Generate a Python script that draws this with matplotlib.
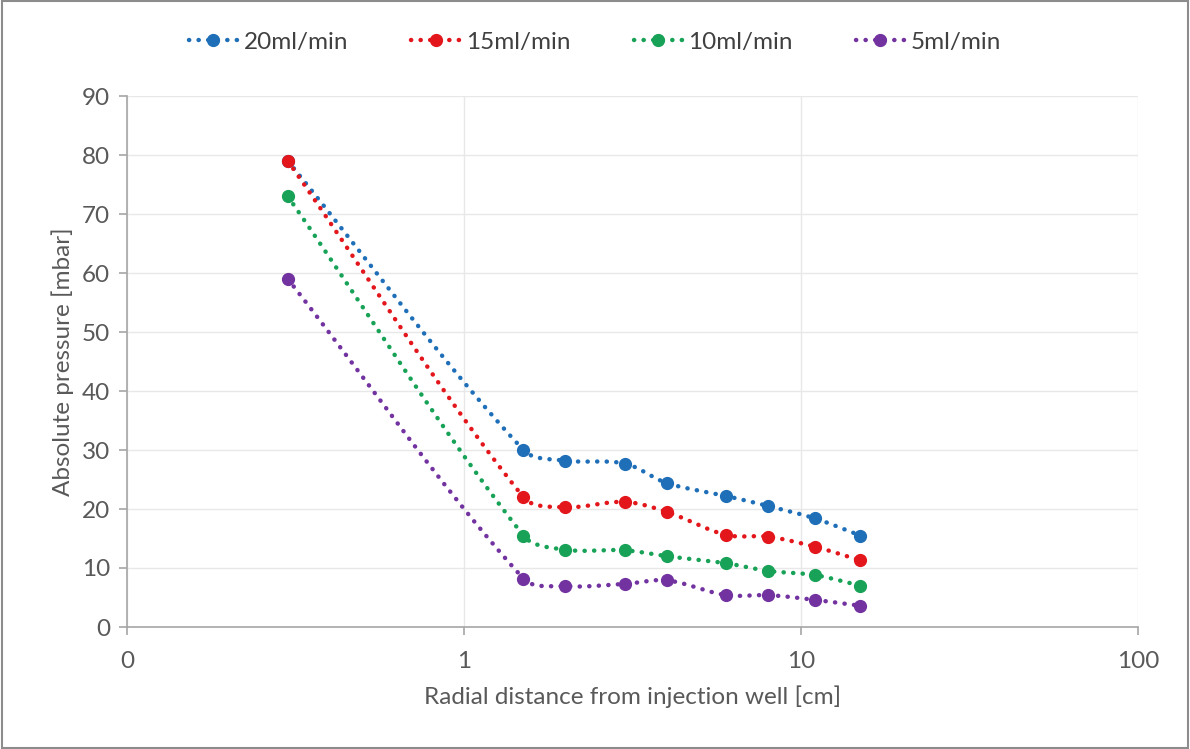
import numpy as np
import matplotlib
matplotlib.use("Agg")
import matplotlib.pyplot as plt
from matplotlib.ticker import FixedLocator, FixedFormatter, NullLocator

plt.rcParams['font.family'] = ['Lato', 'DejaVu Sans']

distance_cm = [0.3, 1.5, 2.0, 3.0, 4.0, 6.0, 8.0, 11.0, 15.0]
p_20 = [79.0, 30.0, 28.2, 27.7, 24.4, 22.2, 20.5, 18.4, 15.5]
p_15 = [79.0, 22.0, 20.3, 21.2, 19.5, 15.6, 15.3, 13.6, 11.3]
p_10 = [73.0, 15.5, 13.1, 13.0, 12.0, 10.8, 9.5, 8.8, 7.0]
p_5 = [59.0, 8.2, 6.9, 7.3, 7.9, 5.4, 5.4, 4.6, 3.6]
series_labels = ['20ml/min', '15ml/min', '10ml/min', '5ml/min']
series_colors = ['#1f6fb8', '#e3161c', '#17a257', '#7232a0']
x_ticks = [0.1, 1, 10, 100]
x_tick_labels = ['0', '1', '10', '100']
y_ticks = list(range(0, 91, 10))

FIG_W, FIG_H = 1190, 749
AX_L, AX_R, AX_T, AX_B = 127, 1138, 96, 627
X_MIN, X_MAX, Y_MIN, Y_MAX = 0.1, 100, 0, 90
PX_PER_DECADE = (AX_R - AX_L) / np.log10(X_MAX / X_MIN)
PX_PER_UNIT = (AX_B - AX_T) / (Y_MAX - Y_MIN)


def smooth(x, y, n=40):
    """Smoothed curve through the points (Bezier segments, chord-scaled
    tangents), computed in screen proportions."""
    X = np.log10(np.asarray(x, float)) * PX_PER_DECADE
    Y = np.asarray(y, float) * PX_PER_UNIT
    P = np.column_stack([X, Y])
    m = len(P)
    d = np.linalg.norm(np.diff(P, axis=0), axis=1)
    T = np.zeros_like(P)
    for i in range(m):
        if i == 0:
            T[i] = (P[1] - P[0]) / d[0]
        elif i == m - 1:
            T[i] = (P[-1] - P[-2]) / d[-1]
        else:
            T[i] = (P[i + 1] - P[i - 1]) / (d[i - 1] + d[i])
    pts = []
    t = np.linspace(0, 1, n, endpoint=False)[:, None]
    for i in range(m - 1):
        b0 = P[i]
        b1 = P[i] + T[i] * d[i] / 3
        b2 = P[i + 1] - T[i + 1] * d[i] / 3
        b3 = P[i + 1]
        seg = ((1 - t) ** 3) * b0 + 3 * ((1 - t) ** 2) * t * b1 + 3 * (1 - t) * t ** 2 * b2 + t ** 3 * b3
        pts.append(seg)
    pts.append(P[-1][None, :])
    pts = np.vstack(pts)
    return 10 ** (pts[:, 0] / PX_PER_DECADE), pts[:, 1] / PX_PER_UNIT


fig = plt.figure(figsize=(FIG_W / 100, FIG_H / 100), dpi=100)
fig.patch.set_facecolor('white')
ax = fig.add_axes([AX_L / FIG_W, 1 - AX_B / FIG_H, (AX_R - AX_L) / FIG_W, (AX_B - AX_T) / FIG_H])

grey = '#595959'
dark = '#404040'
fs = 17.5
dot_style = (0, (0.05, 2.1))
for ys, lab, col in zip([p_20, p_15, p_10, p_5], series_labels, series_colors):
    sx, sy = smooth(distance_cm, ys)
    ax.plot(sx, sy, color=col, lw=3.2, linestyle=dot_style, dash_capstyle='round', zorder=3)
    ax.plot(distance_cm, ys, linestyle='none', marker='o', ms=8.5, color=col, zorder=4)
    ax.plot([], [], color=col, lw=3.2, linestyle=dot_style, dash_capstyle='round',
            marker='o', ms=8.5, label=lab)

ax.set_xscale('log')
ax.set_xlim(X_MIN, X_MAX)
ax.set_ylim(Y_MIN, Y_MAX)
ax.xaxis.set_major_locator(FixedLocator(x_ticks))
ax.xaxis.set_major_formatter(FixedFormatter(x_tick_labels))
ax.xaxis.set_minor_locator(NullLocator())
ax.set_yticks(y_ticks)

ax.grid(True, color='#e8e8e8', lw=1, zorder=0)
ax.set_axisbelow(True)
for s in ['top', 'right']:
    ax.spines[s].set_visible(False)
for s in ['left', 'bottom']:
    ax.spines[s].set_color('#a6a6a6')
    ax.spines[s].set_linewidth(1.2)
ax.tick_params(axis='both', colors='#a6a6a6', length=6, width=1.2, labelcolor=grey,
               labelsize=fs)
ax.tick_params(axis='x', pad=11)
ax.tick_params(axis='y', pad=6)

ax.set_xlabel('Radial distance from injection well [cm]', fontsize=fs, color=grey, labelpad=10)
ax.set_ylabel('Absolute pressure [mbar]', fontsize=fs, color=grey, labelpad=6)

leg = fig.legend(loc='center', bbox_to_anchor=(0.5, 1 - 42 / FIG_H), ncol=4, frameon=False,
                 fontsize=fs, labelcolor=dark, handlelength=2.0, columnspacing=2.6,
                 handletextpad=0.25)

# outer frame of the chart
fig.add_artist(plt.Rectangle((0.002, 0.002), 0.996, 0.996, transform=fig.transFigure,
                             fill=False, edgecolor='#8c8c8c', lw=1.5))

fig.savefig('out.png', dpi=100)
